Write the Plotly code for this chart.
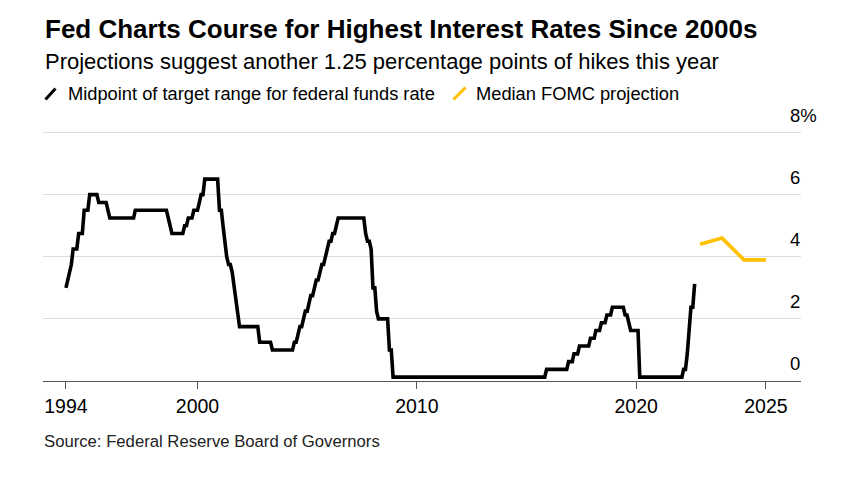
import plotly.graph_objects as go
import pandas as pd

# ---- data -------------------------------------------------------------
start_month = "1994-01-01"
# Midpoint of target range for federal funds rate, month-end values (%)
fed_midpoint = [
    3.0, 3.25, 3.5, 3.75, 4.25, 4.25, 4.25, 4.75, 4.75, 4.75, 5.5, 5.5,          # 1994
    5.5, 6.0, 6.0, 6.0, 6.0, 6.0, 5.75, 5.75, 5.75, 5.75, 5.75, 5.5,            # 1995
    5.25, 5.25, 5.25, 5.25, 5.25, 5.25, 5.25, 5.25, 5.25, 5.25, 5.25, 5.25,     # 1996
    5.25, 5.25, 5.5, 5.5, 5.5, 5.5, 5.5, 5.5, 5.5, 5.5, 5.5, 5.5,               # 1997
    5.5, 5.5, 5.5, 5.5, 5.5, 5.5, 5.5, 5.5, 5.25, 5.0, 4.75, 4.75,              # 1998
    4.75, 4.75, 4.75, 4.75, 4.75, 5.0, 5.0, 5.25, 5.25, 5.25, 5.5, 5.5,         # 1999
    5.5, 5.75, 6.0, 6.0, 6.5, 6.5, 6.5, 6.5, 6.5, 6.5, 6.5, 6.5,                # 2000
    5.5, 5.5, 5.0, 4.5, 4.0, 3.75, 3.75, 3.5, 3.0, 2.5, 2.0, 1.75,              # 2001
    1.75, 1.75, 1.75, 1.75, 1.75, 1.75, 1.75, 1.75, 1.75, 1.75, 1.25, 1.25,     # 2002
    1.25, 1.25, 1.25, 1.25, 1.25, 1.0, 1.0, 1.0, 1.0, 1.0, 1.0, 1.0,            # 2003
    1.0, 1.0, 1.0, 1.0, 1.0, 1.25, 1.25, 1.5, 1.75, 1.75, 2.0, 2.25,            # 2004
    2.25, 2.5, 2.75, 2.75, 3.0, 3.25, 3.25, 3.5, 3.75, 3.75, 4.0, 4.25,         # 2005
    4.5, 4.5, 4.75, 4.75, 5.0, 5.25, 5.25, 5.25, 5.25, 5.25, 5.25, 5.25,        # 2006
    5.25, 5.25, 5.25, 5.25, 5.25, 5.25, 5.25, 5.25, 4.75, 4.5, 4.5, 4.25,       # 2007
    3.0, 3.0, 2.25, 2.0, 2.0, 2.0, 2.0, 2.0, 2.0, 1.0, 1.0, 0.125,              # 2008
    0.125, 0.125, 0.125, 0.125, 0.125, 0.125, 0.125, 0.125, 0.125, 0.125, 0.125, 0.125,  # 2009
    0.125, 0.125, 0.125, 0.125, 0.125, 0.125, 0.125, 0.125, 0.125, 0.125, 0.125, 0.125,  # 2010
    0.125, 0.125, 0.125, 0.125, 0.125, 0.125, 0.125, 0.125, 0.125, 0.125, 0.125, 0.125,  # 2011
    0.125, 0.125, 0.125, 0.125, 0.125, 0.125, 0.125, 0.125, 0.125, 0.125, 0.125, 0.125,  # 2012
    0.125, 0.125, 0.125, 0.125, 0.125, 0.125, 0.125, 0.125, 0.125, 0.125, 0.125, 0.125,  # 2013
    0.125, 0.125, 0.125, 0.125, 0.125, 0.125, 0.125, 0.125, 0.125, 0.125, 0.125, 0.125,  # 2014
    0.125, 0.125, 0.125, 0.125, 0.125, 0.125, 0.125, 0.125, 0.125, 0.125, 0.125, 0.375,  # 2015
    0.375, 0.375, 0.375, 0.375, 0.375, 0.375, 0.375, 0.375, 0.375, 0.375, 0.375, 0.625,  # 2016
    0.625, 0.625, 0.875, 0.875, 0.875, 1.125, 1.125, 1.125, 1.125, 1.125, 1.125, 1.375,  # 2017
    1.375, 1.375, 1.625, 1.625, 1.625, 1.875, 1.875, 1.875, 2.125, 2.125, 2.125, 2.375,  # 2018
    2.375, 2.375, 2.375, 2.375, 2.375, 2.375, 2.125, 2.125, 1.875, 1.625, 1.625, 1.625,  # 2019
    1.625, 1.625, 0.125, 0.125, 0.125, 0.125, 0.125, 0.125, 0.125, 0.125, 0.125, 0.125,  # 2020
    0.125, 0.125, 0.125, 0.125, 0.125, 0.125, 0.125, 0.125, 0.125, 0.125, 0.125, 0.125,  # 2021
    0.125, 0.125, 0.375, 0.375, 0.875, 1.625, 2.375, 2.375, 3.125,                        # 2022
]
fed_dates = pd.date_range(start_month, periods=len(fed_midpoint), freq="MS")

# Median FOMC projection (%)
proj_dates = ["2022-12-01", "2023-12-01", "2024-12-01", "2025-12-01"]
proj_values = [4.4, 4.6, 3.9, 3.9]

x_tick_vals = ["1994-01-01", "2000-01-01", "2010-01-01", "2020-01-01", "2025-12-01"]
x_tick_text = ["1994", "2000", "2010", "2020", "2025"]
y_tick_vals = [0, 2, 4, 6, 8]
y_tick_text = ["0", "2", "4", "6", "8%"]

# ---- layout helpers (pixel -> paper) -----------------------------------
W, H = 842, 483
Y_TOP = 8.05
L, R, B = 43, 41, 102
PX_PER_UNIT = 31.0
PH = Y_TOP * PX_PER_UNIT
T = H - B - PH
PW = W - L - R


def px(x):
    return (x - L) / PW


def py(y):
    return (H - B - y) / PH


FONT = "Liberation Sans, Arial, Helvetica, sans-serif"
BLACK = "#000000"
YELLOW = "#FFC000"

fig = go.Figure()
fig.add_trace(go.Scatter(
    x=fed_dates, y=fed_midpoint, mode="lines",
    line=dict(color=BLACK, width=3.6), name="Midpoint of target range for federal funds rate",
    showlegend=False,
))
fig.add_trace(go.Scatter(
    x=proj_dates, y=proj_values, mode="lines",
    line=dict(color=YELLOW, width=3.6), name="Median FOMC projection",
    showlegend=False,
))

annotations = [
    dict(text="<b>Fed Charts Course for Highest Interest Rates Since 2000s</b>",
         x=px(43), y=py(30), font=dict(size=26, color="#000")),
    dict(text="Projections suggest another 1.25 percentage points of hikes this year",
         x=px(43), y=py(62), font=dict(size=22, color="#000")),
    dict(text="Midpoint of target range for federal funds rate",
         x=px(66), y=py(94), font=dict(size=18.3, color="#000")),
    dict(text="Median FOMC projection",
         x=px(474), y=py(94), font=dict(size=18.3, color="#000")),
    dict(text="Source: Federal Reserve Board of Governors",
         x=px(42), y=py(441), font=dict(size=16.7, color="#222")),
]
for a in annotations:
    a.update(xref="paper", yref="paper", xanchor="left", yanchor="middle",
             showarrow=False)
    a["font"]["family"] = FONT

shapes = [
    dict(type="line", xref="paper", yref="paper",
         x0=px(45.5), y0=py(100), x1=px(55.5), y1=py(89),
         line=dict(color=BLACK, width=3)),
    dict(type="line", xref="paper", yref="paper",
         x0=px(453.5), y0=py(100), x1=px(465.5), y1=py(88),
         line=dict(color=YELLOW, width=3)),
]

fig.update_layout(
    width=W, height=H,
    margin=dict(l=L, r=R, t=T, b=B, pad=0),
    paper_bgcolor="white", plot_bgcolor="white",
    font=dict(family=FONT, color="#000"),
    annotations=annotations,
    shapes=shapes,
    showlegend=False,
    xaxis=dict(
        type="date",
        range=["1992-12-15", "2027-07-08"],
        tickvals=x_tick_vals, ticktext=x_tick_text,
        showgrid=False, zeroline=False,
        showline=True, linecolor="#555", linewidth=1.3,
        ticks="outside", ticklen=7, tickwidth=1.3, tickcolor="#555",
        tickfont=dict(size=19.5, color="#000"),
    ),
    yaxis=dict(
        side="right",
        range=[0, Y_TOP],
        tickvals=y_tick_vals, ticktext=y_tick_text,
        showgrid=True, gridcolor="#dddddd", gridwidth=1,
        zeroline=False, showline=False, ticks="",
        ticklabelshift=-17, ticklabelstandoff=-12,
        tickfont=dict(size=18.5, color="#000"),
    ),
)

fig.write_html("out.html")
